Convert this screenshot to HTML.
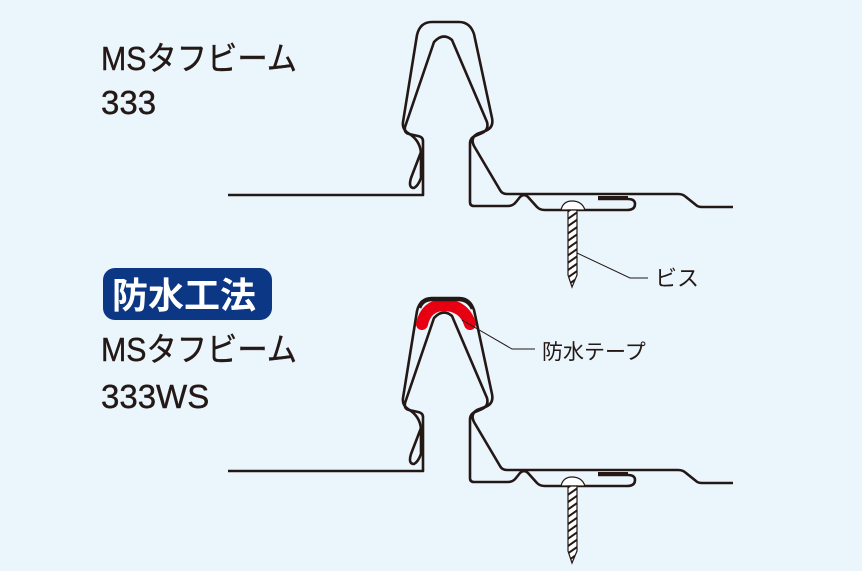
<!DOCTYPE html>
<html><head><meta charset="utf-8"><style>
html,body{margin:0;padding:0;}
body{width:862px;height:571px;background:#eaf5fc;overflow:hidden;}
svg{display:block;}
</style></head><body>
<svg width="862" height="571" viewBox="0 0 862 571" xmlns="http://www.w3.org/2000/svg">
<defs>
<pattern id="h" width="6" height="6" patternUnits="userSpaceOnUse" patternTransform="rotate(-35)">
<rect width="6" height="6" fill="#fff"/><rect width="6" height="2" fill="#231815"/>
</pattern>
<g id="beam">
  <path d="M228,195 H423 V141 Q423,137 418,136 L409,134 Q404,133 405,127 L434,42 Q443,32 452,40 L487,122 Q489,130 482,133 L475,136 Q470,138 470,144 V202 Q470,206 474,206 H508 Q513,206 516,202 L520,197 Q524,193 528,197 L537,207 Q540,210 545,210 H627 Q635,210 635,204 Q635,199 628,199 H598" fill="none" stroke="#231815" stroke-width="2.6" stroke-linejoin="round"/>
  <path d="M421,152 L411,178 Q408,188 414,188 Q418,186 421,178 L421,153 Q420,140 408,133 Q402,129 403,122 L417,35 Q420,22 432,22 H459 Q470,22 474,34 L492,118 Q494,128 485,131 L477,134 Q470,138 474,146 L500,190 Q502,194 507,194 H678 Q683,194 686,197 L696,205 Q698,207 702,207 H733" fill="none" stroke="#231815" stroke-width="2.6" stroke-linejoin="round"/>
  <rect x="598" y="196" width="30" height="3" fill="#231815"/>
  <path d="M561,210 Q563,201 572,201 Q582,201 585,210 Z" fill="#fff" stroke="#231815" stroke-width="1.2"/>
  <path d="M568,210 V275 L572,287 L577,275 V210 Z" fill="url(#h)" stroke="#231815" stroke-width="1.2"/>
</g>
</defs>
<use href="#beam"/>
<use href="#beam" transform="translate(0,276)"/>
<path d="M422,324 Q426,306 443,305 Q464,305 470,324" fill="none" stroke="#e60012" stroke-width="12" stroke-linecap="round"/>
<path d="M420,308 Q423,300 432,300 H458 Q468,300 472,309" fill="none" stroke="#231815" stroke-width="2.6"/>
<path d="M577,253 L630,278 H648" fill="none" stroke="#231815" stroke-width="1"/>
<text x="655" y="286" font-family="Liberation Sans, Noto Sans CJK JP, sans-serif" font-size="22" fill="#231815">ビス</text>
<path d="M462,320 L512,349 H535" fill="none" stroke="#231815" stroke-width="1"/>
<text x="542" y="359" font-family="Liberation Sans, Noto Sans CJK JP, sans-serif" font-size="21" fill="#231815">防水テープ</text>
<g font-family="Liberation Sans, Noto Sans CJK JP, sans-serif" font-size="33" fill="#231815" stroke="#231815" stroke-width="0.4">
<text x="101" y="70" textLength="196" lengthAdjust="spacingAndGlyphs">MSタフビーム</text>
<text x="101" y="114">333</text>
<text x="101" y="361" textLength="196" lengthAdjust="spacingAndGlyphs">MSタフビーム</text>
<text x="101" y="408">333WS</text>
</g>
<rect x="103" y="268" width="169" height="52" rx="12" fill="#0c3785"/>
<text x="112" y="308" font-family="Noto Sans CJK JP, sans-serif" font-size="36" font-weight="bold" fill="#fff">防水工法</text>
</svg>
</body></html>
